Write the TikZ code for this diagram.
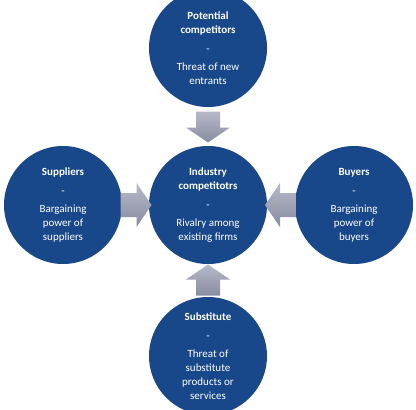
\documentclass[tikz,border=0pt]{standalone}
\usepackage{fontspec}
\setmainfont{Carlito}
\usetikzlibrary{calc}
\definecolor{bubblecol}{RGB}{24,72,138}
\definecolor{arrtop}{RGB}{182,185,200}
\definecolor{arrbot}{RGB}{136,140,160}
\begin{document}
\begin{tikzpicture}[x=1pt,y=-1pt,
  bubble/.style={circle, fill=bubblecol, minimum size=118pt, inner sep=0pt,
    text=white, align=center, font=\fontsize{11}{14}\selectfont},
  arrowfill/.style={top color=arrtop, bottom color=arrbot, draw=none},
  farrow/.pic={\path[arrowfill] (-15,-12)--(1,-12)--(1,-22)--(16,0)--(1,22)--(1,12)--(-15,12)--cycle;}]
\clip (0,0) rectangle (416,410);
\fill[white] (0,0) rectangle (416,410);
\node[bubble] (top) at (208,48) {\textbf{Potential}\\\textbf{competitors}\\[5pt]-\\[4pt]Threat of new\\entrants};
\node[bubble] (mid) at (208,205) {\textbf{Industry}\\\textbf{competitotrs}\\[5pt]-\\[4pt]Rivalry among\\existing firms};
\node[bubble] (left) at (63,205) {\textbf{Suppliers}\\[5pt]-\\[4pt]Bargaining\\power of\\suppliers};
\node[bubble] (right) at (354,205) {\textbf{Buyers}\\[5pt]-\\[4pt]Bargaining\\power of\\buyers};
\node[bubble] (bot) at (208,356) {\textbf{Substitute}\\[5pt]-\\[4pt]Threat of\\substitute\\products or\\services};
\coordinate (atop) at ($(top.south)!0.5!(mid.north)$);
\coordinate (aleft) at ($(left.east)!0.5!(mid.west)$);
\coordinate (aright) at ($(right.west)!0.5!(mid.east)$);
\coordinate (abot) at ($(bot.north)!0.5!(mid.south)$);
\pic[rotate=-90] at (atop) {farrow};
\pic[rotate=0] at (aleft) {farrow};
\pic[rotate=180] at (aright) {farrow};
\pic[rotate=90] at (abot) {farrow};
\end{tikzpicture}
\end{document}
